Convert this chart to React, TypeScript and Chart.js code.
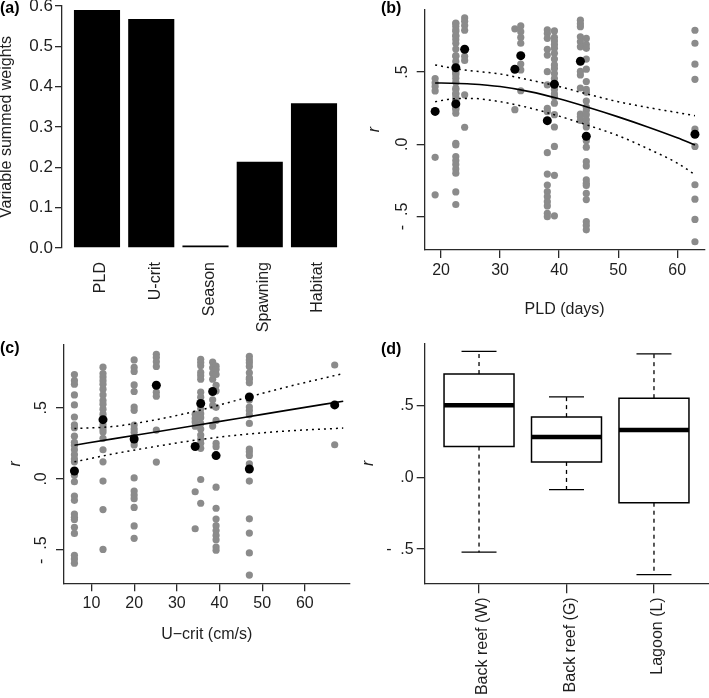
import React, { useEffect, useRef } from 'react';
import { Chart, registerables } from 'chart.js';

Chart.register(...registerables);

const FONT = "'Liberation Sans', Arial, Helvetica, sans-serif";
const INK = '#1e1e1e';
const AXIS = '#2a2a2a';
const GREY = '#8b8b8b';

// ---------- (a) variable summed weights ----------
const weightCategories = ['PLD', 'U-crit', 'Season', 'Spawning', 'Habitat'];
const summedWeights = [0.59, 0.568, 0.006, 0.214, 0.359];
const weightTicks = [0, 0.1, 0.2, 0.3, 0.4, 0.5, 0.6];
const weightTickLabels = ['0.0', '0.1', '0.2', '0.3', '0.4', '0.5', '0.6'];

// ---------- species (shared by b and c) ----------
const speciesPLD = [19, 22.5, 22.5, 24, 32.5, 33.5, 38, 39.2, 43.6, 44.6, 63];
const speciesUcrit = [34.3, 35.6, 20, 25.2, 67, 38.4, 39.2, 12.7, 47, 6, 47];
const speciesMeanR = [0.228, 0.53, 0.28, 0.658, 0.52, 0.614, 0.164, 0.416, 0.575, 0.056, 0.07];
const speciesPairR: number[][] = [
  [0.455, 0.425, 0.4, 0.37, -0.09, -0.35],
  [0.84, 0.817, 0.794, 0.748, 0.725, 0.7, 0.609, 0.574, 0.493, 0.458, 0.43, 0.389, 0.35, 0.308, 0.278, 0.25, 0.215, -0.004, -0.171],
  [0.836, 0.783, 0.755, 0.66, 0.614, 0.505, 0.482, 0.378, 0.35, 0.327, 0.3, 0.262, 0.239, 0.007, -0.085, -0.113, -0.139, -0.2, -0.33, -0.417],
  [0.875, 0.852, 0.822, 0.79, 0.609, 0.581, 0.343, 0.118],
  [0.8, 0.24],
  [0.82, 0.78, 0.74, 0.7, 0.556, 0.515, 0.371],
  [0.792, 0.768, 0.734, 0.658, 0.618, 0.503, 0.411, 0.249, 0.226, -0.058, -0.206, -0.282, -0.328, -0.363, -0.397, -0.427, -0.478, -0.501],
  [0.785, 0.74, 0.715, 0.69, 0.665, 0.63, 0.59, 0.55, 0.525, 0.49, 0.455, 0.38, 0.35, 0.33, 0.285, 0.205, 0.12, -0.015, -0.215, -0.495],
  [0.86, 0.835, 0.815, 0.745, 0.71, 0.675, 0.505, 0.48, 0.39, 0.21, 0.19, 0.165],
  [0.733, 0.69, 0.665, 0.59, 0.52, 0.435, 0.38, 0.36, 0.3, 0.257, 0.235, 0.205, 0.17, 0.14, 0.12, 0.025, -0.02, -0.12, -0.15, -0.247, -0.27, -0.285, -0.34, -0.383, -0.536, -0.562, -0.592],
  [0.79, 0.7, 0.555, 0.45, 0.105, -0.015, -0.28, -0.38, -0.52, -0.675],
];

const rTicks = [-0.5, 0, 0.5];
const rTickLabels = ['-  .5', '.0', '.5'];
const pldTicks = [20, 30, 40, 50, 60];
const ucritTicks = [10, 20, 30, 40, 50, 60];

// fitted curves (b)
const pldFitX = [19, 22, 25, 30, 35, 40, 45, 50, 55, 60, 63];
const pldFitR = [0.425, 0.423, 0.418, 0.4, 0.365, 0.315, 0.255, 0.19, 0.12, 0.045, -0.005];
const pldUpperR = [0.55, 0.527, 0.51, 0.487, 0.445, 0.4, 0.345, 0.295, 0.255, 0.22, 0.198];
const pldLowerR = [0.295, 0.315, 0.318, 0.295, 0.252, 0.195, 0.13, 0.06, -0.03, -0.13, -0.21];

// fitted curves (c)
const ucritFitX = [6, 15, 25, 35, 45, 55, 69];
const ucritFitR = [0.237, 0.281, 0.33, 0.379, 0.428, 0.478, 0.546];
const ucritUpperR = [0.354, 0.368, 0.415, 0.48, 0.56, 0.64, 0.74];
const ucritLowerR = [0.12, 0.175, 0.228, 0.275, 0.31, 0.335, 0.357];

// ---------- (d) habitat boxplots ----------
const habitats = ['Back reef (W)', 'Back reef (G)', 'Lagoon (L)'];
const boxLow = [-0.521, -0.086, -0.677];
const boxQ1 = [0.214, 0.107, -0.177];
const boxMedian = [0.502, 0.281, 0.33];
const boxQ3 = [0.719, 0.419, 0.551];
const boxHigh = [0.877, 0.56, 0.86];

// ---------- helpers ----------
type Pt = { x: number; y: number };
const pts = (xs: number[], ys: number[]): Pt[] => xs.map((x, i) => ({ x, y: ys[i] }));

const lineSet = (data: Pt[], extra: any = {}) => ({
  data,
  showLine: true,
  pointRadius: 0,
  pointHoverRadius: 0,
  borderColor: '#000',
  borderWidth: 1.5,
  fill: false,
  tension: 0,
  ...extra,
});

const fixedY = (width: number) => (s: any) => {
  s.width = width;
  s.paddingTop = 0;
  s.paddingBottom = 0;
};
const fixedX = (height: number) => (s: any) => {
  s.height = height;
  s.paddingLeft = 0;
  s.paddingRight = 0;
};
const setTicks = (values: number[]) => (s: any) => {
  s.ticks = values.map((v) => ({ value: v }));
};

const tickMarks = (tickLength: number) => ({
  grid: { display: true, drawOnChartArea: false, drawTicks: true, tickLength, color: AXIS, lineWidth: 1.3 },
  border: { display: true, color: AXIS, width: 1.3 },
});

const rotatedYLabels = (values: number[], labels: string[], offset: number) => ({
  id: 'rotatedYLabels',
  afterDraw(chart: any) {
    const s = chart.scales.y;
    const ctx = chart.ctx;
    ctx.save();
    ctx.font = `16px ${FONT}`;
    ctx.fillStyle = INK;
    ctx.textAlign = 'center';
    ctx.textBaseline = 'middle';
    values.forEach((v, i) => {
      ctx.save();
      ctx.translate(s.right - offset, s.getPixelForValue(v));
      ctx.rotate(-Math.PI / 2);
      ctx.fillText(labels[i], 0, 0);
      ctx.restore();
    });
    ctx.restore();
  },
});

const baseOptions = {
  responsive: false,
  maintainAspectRatio: false,
  animation: false,
  devicePixelRatio: 1,
  events: [],
  plugins: { legend: { display: false }, tooltip: { enabled: false } },
};

const font16 = { family: FONT, size: 16 };

// ---------- chart configs ----------
function configA(): any {
  return {
    type: 'bar',
    data: {
      datasets: [
        {
          data: pts(weightCategories.map((_, i) => 0.7 + 1.2 * i), summedWeights),
          backgroundColor: '#000',
          borderColor: '#222',
          borderWidth: 0,
          barPercentage: 0.85,
          categoryPercentage: 1,
        },
      ],
    },
    options: {
      ...baseOptions,
      layout: { padding: { left: 0, top: 6, right: 5, bottom: 0 } },
      scales: {
        x: {
          type: 'linear',
          min: -0.074,
          max: 6.274,
          offset: false,
          afterBuildTicks: setTicks(weightCategories.map((_, i) => 0.7 + 1.2 * i)),
          afterFit: fixedX(92),
          ticks: {
            autoSkip: false,
            minRotation: 90,
            maxRotation: 90,
            padding: 14,
            labelOffset: 4,
            color: INK,
            font: font16,
            callback: (_v: any, i: number) => weightCategories[i],
          },
          grid: { display: false, drawTicks: false, offset: false },
          border: { display: false },
        },
        y: {
          type: 'linear',
          min: 0,
          max: 0.6,
          afterBuildTicks: setTicks(weightTicks),
          afterFit: fixedY(62),
          ticks: { padding: 2, color: INK, font: { family: FONT, size: 17 }, callback: (_v: any, i: number) => weightTickLabels[i] },
          ...tickMarks(7),
          title: { display: true, text: 'Variable summed weights', color: INK, font: font16, padding: { top: -3, bottom: 0 } },
        },
      },
    },
  };
}

function scatterConfig(xs: number[], fit: { x: number[]; r: number[]; up: number[]; lo: number[] }, dims: any): any {
  const grey: Pt[] = [];
  speciesPairR.forEach((rs, i) => rs.forEach((r) => grey.push({ x: xs[i], y: r })));
  const black = pts(xs, speciesMeanR);
  const dotted = { borderDash: [2, 4], borderWidth: 1.5, cubicInterpolationMode: 'monotone' };
  return {
    type: 'scatter',
    data: {
      datasets: [
        lineSet(pts(fit.x, fit.r), { borderWidth: 1.6, cubicInterpolationMode: 'monotone' }),
        lineSet(pts(fit.x, fit.up), dotted),
        lineSet(pts(fit.x, fit.lo), dotted),
        { data: black, pointRadius: 4.5, backgroundColor: '#000', borderWidth: 0, pointStyle: 'circle' },
        { data: grey, pointRadius: 3.6, backgroundColor: GREY, borderWidth: 0, pointStyle: 'circle' },
      ],
    },
    options: {
      ...baseOptions,
      layout: { padding: { left: 0, top: dims.top, right: dims.right, bottom: 0 } },
      scales: {
        x: {
          type: 'linear',
          min: dims.xmin,
          max: dims.xmax,
          afterBuildTicks: setTicks(dims.xTicks),
          afterFit: fixedX(dims.xHeight),
          ticks: { padding: 3, color: INK, font: font16, autoSkip: false, maxRotation: 0 },
          ...tickMarks(8),
          title: { display: true, text: dims.xTitle, color: INK, font: font16, padding: { top: 0, bottom: dims.xTitlePad } },
        },
        y: {
          type: 'linear',
          min: dims.ymin,
          max: dims.ymax,
          afterBuildTicks: setTicks(rTicks),
          afterFit: fixedY(dims.yWidth),
          ticks: { display: false },
          ...tickMarks(8),
          title: { display: true, text: 'r', color: INK, font: { ...font16, style: 'italic' }, padding: { top: dims.yTitlePad, bottom: 0 } },
        },
      },
    },
    plugins: [rotatedYLabels(rTicks, rTickLabels, 22.5)],
  };
}

function configB(): any {
  return scatterConfig(
    speciesPLD,
    { x: pldFitX, r: pldFitR, up: pldUpperR, lo: pldLowerR },
    {
      top: 9.3, right: 0, xmin: 17.233, xmax: 64.617, ymin: -0.732, ymax: 0.935,
      xTicks: pldTicks, xHeight: 90, xTitle: 'PLD (days)', xTitlePad: 20.4,
      yWidth: 70.7, yTitlePad: 11,
    }
  );
}

function configC(): any {
  return scatterConfig(
    speciesUcrit,
    { x: ucritFitX, r: ucritFitR, up: ucritUpperR, lo: ucritLowerR },
    {
      top: 1.7, right: 2.3, xmin: 3.558, xmax: 70.47, ymin: -0.733, ymax: 0.944,
      xTicks: ucritTicks, xHeight: 114.7, xTitle: 'U\u2212crit (cm/s)', xTitlePad: 53.4,
      yWidth: 64, yTitlePad: 6.4,
    }
  );
}

function configD(): any {
  const datasets: any[] = [];
  const hw = 0.4;
  const cw = 0.2;
  habitats.forEach((_, i) => {
    const c = i + 1;
    datasets.push(
      lineSet(
        [
          { x: c - hw, y: boxQ1[i] },
          { x: c + hw, y: boxQ1[i] },
          { x: c + hw, y: boxQ3[i] },
          { x: c - hw, y: boxQ3[i] },
          { x: c - hw, y: boxQ1[i] },
        ],
        { borderWidth: 1.5, borderCapStyle: 'square', borderJoinStyle: 'miter' }
      ),
      lineSet([{ x: c - hw, y: boxMedian[i] }, { x: c + hw, y: boxMedian[i] }], { borderWidth: 4.5 }),
      lineSet([{ x: c, y: boxQ3[i] }, { x: c, y: boxHigh[i] }], { borderWidth: 1.3, borderDash: [4, 4] }),
      lineSet([{ x: c, y: boxQ1[i] }, { x: c, y: boxLow[i] }], { borderWidth: 1.3, borderDash: [4, 4] }),
      lineSet([{ x: c - cw, y: boxHigh[i] }, { x: c + cw, y: boxHigh[i] }], { borderWidth: 1.3 }),
      lineSet([{ x: c - cw, y: boxLow[i] }, { x: c + cw, y: boxLow[i] }], { borderWidth: 1.3 })
    );
  });
  return {
    type: 'scatter',
    data: { datasets },
    options: {
      ...baseOptions,
      layout: { padding: { left: 0, top: 3.3, right: 0, bottom: 0 } },
      scales: {
        x: {
          type: 'linear',
          min: 0.379,
          max: 3.629,
          afterBuildTicks: setTicks(habitats.map((_, i) => i + 1)),
          afterFit: fixedX(114.7),
          ticks: {
            autoSkip: false,
            minRotation: 90,
            maxRotation: 90,
            padding: 4,
            labelOffset: 4,
            color: INK,
            font: font16,
            callback: (_v: any, i: number) => habitats[i],
          },
          ...tickMarks(10),
        },
        y: {
          type: 'linear',
          min: -0.738,
          max: 0.933,
          afterBuildTicks: setTicks(rTicks),
          afterFit: fixedY(70.7),
          ticks: { padding: 3, color: INK, font: font16, callback: (_v: any, i: number) => rTickLabels[i] },
          ...tickMarks(8),
          title: { display: true, text: 'r', color: INK, font: { ...font16, style: 'italic' }, padding: { top: 4.7, bottom: 0 } },
        },
      },
    },
  };
}

// ---------- components ----------
function Panel({ left, top, width, height, build }: { left: number; top: number; width: number; height: number; build: () => any }) {
  const ref = useRef<HTMLCanvasElement>(null);
  useEffect(() => {
    const chart = new Chart(ref.current as HTMLCanvasElement, build());
    return () => chart.destroy();
  }, [build]);
  return (
    <canvas
      ref={ref}
      width={width}
      height={height}
      style={{ position: 'absolute', left, top, width, height, display: 'block' }}
    />
  );
}

const letterStyle = (left: number, top: number): React.CSSProperties => ({
  position: 'absolute',
  left,
  top,
  fontFamily: FONT,
  fontWeight: 'bold',
  fontSize: 16,
  lineHeight: '16px',
  color: '#000',
  whiteSpace: 'nowrap',
});

export default function App() {
  return (
    <div style={{ position: 'fixed', left: 0, top: 0, width: 709, height: 698, background: '#fff', overflow: 'hidden' }}>
      <Panel left={0} top={0} width={354} height={340} build={configA} />
      <Panel left={354} top={0} width={355} height={340} build={configB} />
      <Panel left={0} top={340} width={354} height={358} build={configC} />
      <Panel left={354} top={340} width={355} height={358} build={configD} />
      <div style={letterStyle(0, 0)}>(a)</div>
      <div style={letterStyle(381, 0)}>(b)</div>
      <div style={letterStyle(0, 340)}>(c)</div>
      <div style={letterStyle(381, 341)}>(d)</div>
    </div>
  );
}
